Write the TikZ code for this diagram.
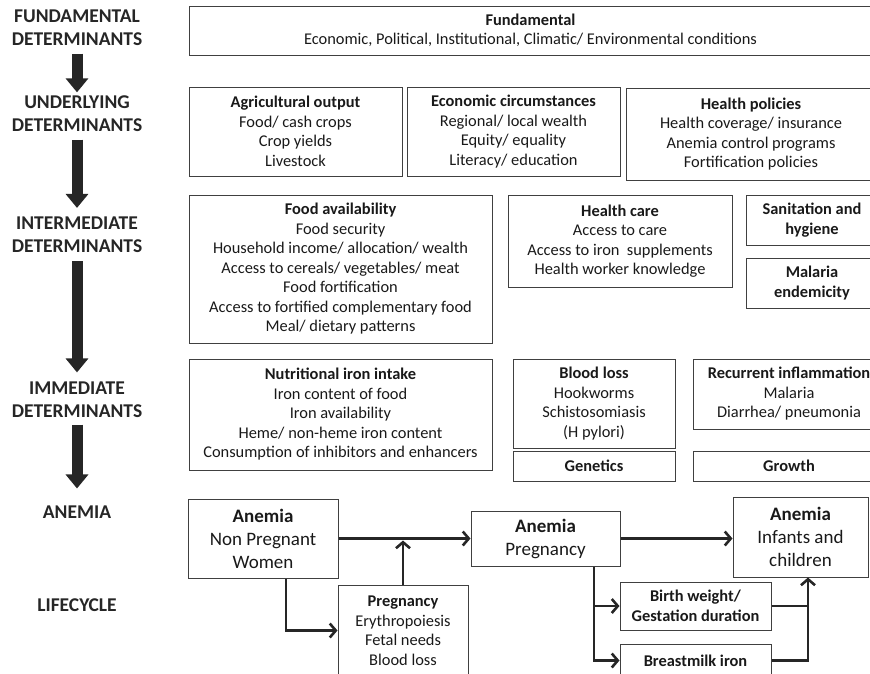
\documentclass[tikz,border=0pt]{standalone}
\usepackage{fontspec}
\setmainfont{Carlito}
\usetikzlibrary{arrows.meta}

\begin{document}
\begin{tikzpicture}[x=1pt,y=-1pt,
box/.style ={rectangle, draw=black!75, line width=1pt,
  align=center, inner sep=0pt, text=black!90,
  font=\fontsize{16.4}{19.5}\selectfont
},
anbox/.style ={box, font=\fontsize{19}{23}\selectfont},
level/.style ={align=center, inner sep=0pt, text=black!85,
  font=\bfseries\fontsize{19.5}{23}\selectfont
},
bigarr/.style ={line width=11pt, draw=black!85,
  -{Triangle[length=14pt,width=22pt]}
},
arr/.style ={line width=2.6pt, draw=black!85,
  -{Straight Barb[length=6pt,width=14pt]}
},
link/.style ={line width=2.6pt, draw=black!85}]
\clip (0,0) rectangle (870,673);

% levels on the left
\node (lfund) at (77,27.5) [level] {FUNDAMENTAL\\DETERMINANTS};
\node (lund) at (77,113.5) [level] {UNDERLYING\\DETERMINANTS};
\node (lint) at (77,235) [level] {INTERMEDIATE\\DETERMINANTS};
\node (limm) at (77,399.5) [level] {IMMEDIATE\\DETERMINANTS};
\node (lan) at (77,512) [level] {ANEMIA};
\node (llife) at (77,605) [level] {LIFECYCLE};

\draw[bigarr, shorten <=8pt, shorten >=3pt] (lfund) -- (lund);
\draw[bigarr, shorten <=8pt, shorten >=9pt] (lund) -- (lint);
\draw[bigarr, shorten <=8pt, shorten >=9pt] (lint) -- (limm);
\draw[bigarr, shorten <=7pt, shorten >=17pt] (limm) -- (lan);

% determinants
\node (fund) at (530.5,30.5) [box, minimum width=683, minimum height=49]
  {\textbf{Fundamental}\\Economic, Political, Institutional, Climatic/ Environmental conditions};

\node (agri) at (295.5,131.5) [box, minimum width=213, minimum height=89]
  {\textbf{Agricultural output}\\Food/ cash crops\\Crop yields\\Livestock};
\node (econ) at (513.5,131.5) [box, minimum width=213, minimum height=89]
  {\textbf{Economic circumstances}\\Regional/ local wealth\\Equity/ equality\\Literacy/ education};
\node (hpol) at (751,134) [box, minimum width=250, minimum height=92]
  {\textbf{Health policies}\\Health coverage/ insurance\\Anemia control programs\\Fortification policies};

\node (food) at (340.5,269) [box, minimum width=303, minimum height=148]
  {\textbf{Food availability}\\Food security\\Household income/ allocation/ wealth\\Access to cereals/ vegetables/ meat\\Food fortification\\Access to fortified complementary food\\Meal/ dietary patterns};
\node (hcare) at (620,241) [box, minimum width=224, minimum height=92]
  {\textbf{Health care}\\Access to care\\Access to iron\ \ supplements\\Health worker knowledge};
\node (sanit) at (812,220) [box, minimum width=132, minimum height=50]
  {\textbf{Sanitation and}\\\textbf{hygiene}};
\node (malend) at (812,283) [box, minimum width=132, minimum height=50]
  {\textbf{Malaria}\\\textbf{endemicity}};

\node (nutr) at (340.5,414.5) [box, minimum width=303, minimum height=111]
  {\textbf{Nutritional iron intake}\\Iron content of food\\Iron availability\\Heme/ non-heme iron content\\Consumption of inhibitors and enhancers};
\node (bloss) at (594,403.5) [box, minimum width=162, minimum height=89]
  {\textbf{Blood loss}\\Hookworms\\Schistosomiasis\\(H pylori)};
\node (genet) at (594,466) [box, minimum width=162, minimum height=30]
  {\textbf{Genetics}};
\node (recur) at (789,394) [box, minimum width=192, minimum height=70]
  {\textbf{Recurrent inflammation}\\Malaria\\Diarrhea/ pneumonia};
\node (growth) at (789,466) [box, minimum width=192, minimum height=30]
  {\textbf{Growth}};

% anemia and lifecycle
\node (npw) at (263,538.5) [anbox, minimum width=150, minimum height=79]
  {\textbf{Anemia}\\Non Pregnant\\Women};
\node (preg) at (545.5,538.5) [anbox, minimum width=149, minimum height=55]
  {\textbf{Anemia}\\Pregnancy};
\node (inf) at (800.5,537) [anbox, minimum width=135, minimum height=80]
  {\textbf{Anemia}\\Infants and\\children};

\node (lpreg) at (403,630.5) [box, minimum width=130, minimum height=91]
  {\textbf{Pregnancy}\\Erythropoiesis\\Fetal needs\\Blood loss};
\node (bw) at (695.5,606) [box, minimum width=151, minimum height=48]
  {\textbf{Birth weight/}\\\textbf{Gestation duration}};
\node (milk) at (695.5,660.5) [box, minimum width=151, minimum height=33]
  {\textbf{Breastmilk iron}};

\coordinate (split) at ([xshift=48.5pt]preg.south);
\coordinate (join) at ([xshift=7.5pt]inf.south);

\draw[arr] (npw) -- (preg);
\draw[arr, shorten >=2pt] (lpreg.north) -- (lpreg.north |- npw.east);
\draw[arr] ([xshift=23pt]npw.south) |- (lpreg.west);
\draw[arr] (preg.east) -- (preg.east -| inf.west);
\draw[arr] (split) |- (milk.west);
\draw[arr] (split |- bw.west) -- (bw.west);
\draw[arr] (milk.east) -| (join);
\draw[link] (bw.east) -- (bw.east -| join);
\end{tikzpicture}
\end{document}
